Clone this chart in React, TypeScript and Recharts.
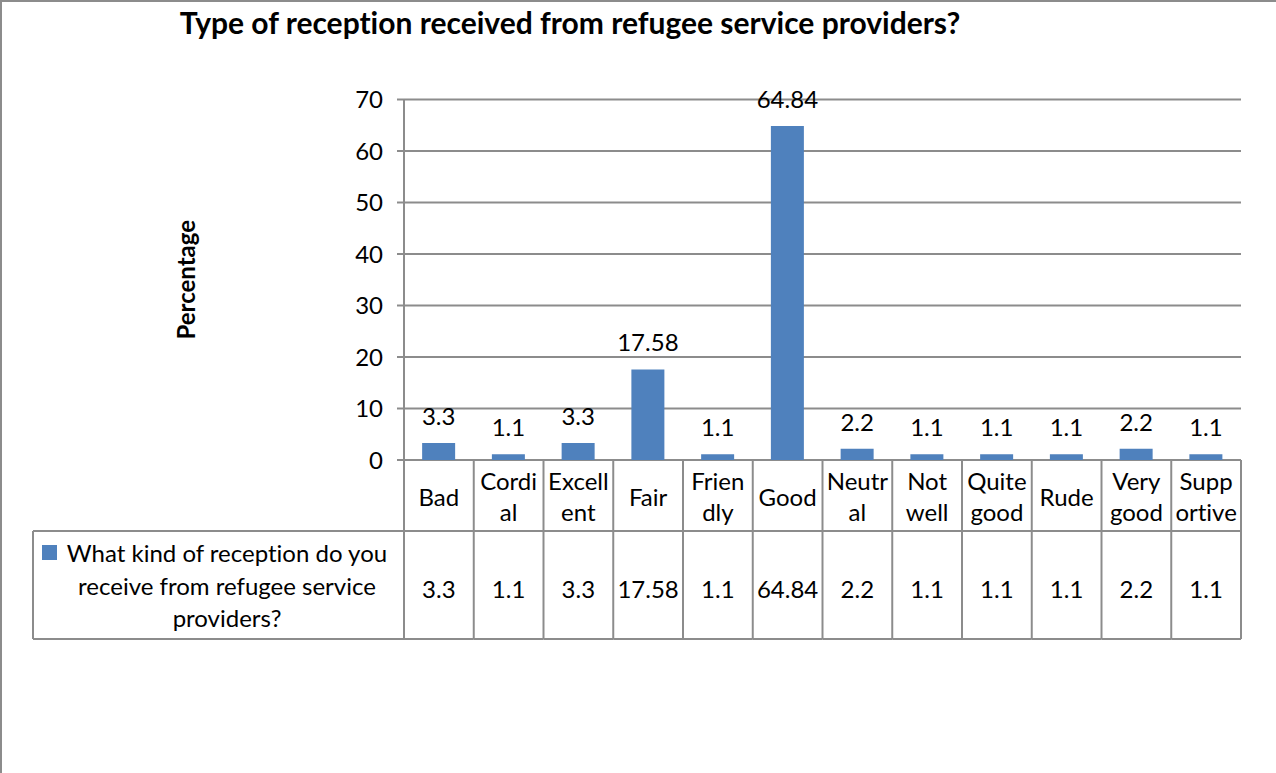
import React from 'react';
import { BarChart, Bar, XAxis, YAxis, CartesianGrid, LabelList } from 'recharts';

const categories = ['Bad', 'Cordial', 'Excellent', 'Fair', 'Friendly', 'Good', 'Neutral', 'Not well', 'Quite good', 'Rude', 'Very good', 'Supportive'];
const categoryLabelLines = [
  ['Bad'], ['Cordi', 'al'], ['Excell', 'ent'], ['Fair'], ['Frien', 'dly'], ['Good'],
  ['Neutr', 'al'], ['Not', 'well'], ['Quite', 'good'], ['Rude'], ['Very', 'good'], ['Supp', 'ortive'],
];
const percentages = [3.3, 1.1, 3.3, 17.58, 1.1, 64.84, 2.2, 1.1, 1.1, 1.1, 2.2, 1.1];
const yTicks = [0, 10, 20, 30, 40, 50, 60, 70];
const seriesNameLines = ['What kind of reception do you', 'receive from refugee service', 'providers?'];
const title = 'Type of reception received from refugee service providers?';
const yAxisTitle = 'Percentage';

const data = categories.map((c, i) => ({ name: c, value: percentages[i] }));

const W = 1276;
const H = 773;
const FONT = 'Lato, "Open Sans", sans-serif';
const FS = 24;
const GRID = '#8c8c8c';
const BAR = '#4F81BD';
const ROW1 = 71;
const ROW2 = 108;
const XAXIS_H = ROW1 + ROW2;
const MARGIN = { top: 99.5, right: 35, left: 344, bottom: 313 - XAXIS_H };
const YAXIS_W = 60;
const PLOT_W = W - MARGIN.left - YAXIS_W - MARGIN.right;
const TXT: React.CSSProperties = { fontVariantLigatures: 'none' };

function TableTick(props: any) {
  const { x, y, payload, index } = props;
  const bw = PLOT_W / categories.length;
  const lines = categoryLabelLines[index] || [String(payload.value)];
  const left = x - bw / 2;
  const right = x + bw / 2;
  const val = percentages[index];
  return (
    <g>
      <line x1={left} y1={y} x2={left} y2={y + ROW1 + ROW2} stroke={GRID} strokeWidth={2} />
      {index === categories.length - 1 && (
        <line x1={right} y1={y} x2={right} y2={y + ROW1 + ROW2} stroke={GRID} strokeWidth={2} />
      )}
      <line x1={left} y1={y + ROW1} x2={right} y2={y + ROW1} stroke={GRID} strokeWidth={2} />
      <line x1={left} y1={y + ROW1 + ROW2} x2={right} y2={y + ROW1 + ROW2} stroke={GRID} strokeWidth={2} />
      {lines.length === 1 ? (
        <text x={x} y={y + 46} textAnchor="middle" fontSize={FS} fontFamily={FONT} fill="#000" style={TXT}>{lines[0]}</text>
      ) : (
        lines.map((l: string, i: number) => (
          <text key={i} x={x} y={y + 30 + i * 31} textAnchor="middle" fontSize={FS} fontFamily={FONT} fill="#000" style={TXT}>{l}</text>
        ))
      )}
      <text x={x} y={y + 138} textAnchor="middle" fontSize={FS} fontFamily={FONT} fill="#000" style={TXT}>{String(val)}</text>
    </g>
  );
}

function YTitle(props: any) {
  const { viewBox } = props;
  const cx = viewBox.x - 159;
  const cy = viewBox.y + viewBox.height / 2;
  return (
    <text x={cx} y={cy} transform={`rotate(-90 ${cx} ${cy})`} textAnchor="middle" dominantBaseline="central"
      fontSize={FS} fontWeight="bold" fontFamily={FONT} fill="#000" style={TXT}>{yAxisTitle}</text>
  );
}

export default function App() {
  const plotLeft = MARGIN.left + YAXIS_W;
  const plotBottom = H - 313;
  const rowTop = plotBottom + ROW1;
  const rowBottom = rowTop + ROW2;
  return (
    <div style={{ position: 'absolute', left: 0, top: 0, width: W, height: H, background: '#fff' }}>
      <svg width={W} height={H} style={{ position: 'absolute', left: 0, top: 0 }}>
        <rect x={1} y={1} width={W + 20} height={H + 20} fill="#fff" stroke={GRID} strokeWidth={2} />
        <text x={570} y={34} textAnchor="middle" fontSize={30} fontWeight="bold" fontFamily={FONT} fill="#000" style={TXT}>{title}</text>
        <line x1={33} y1={rowTop} x2={plotLeft} y2={rowTop} stroke={GRID} strokeWidth={2} />
        <line x1={33} y1={rowBottom} x2={plotLeft} y2={rowBottom} stroke={GRID} strokeWidth={2} />
        <line x1={33} y1={rowTop} x2={33} y2={rowBottom} stroke={GRID} strokeWidth={2} />
        <rect x={42} y={545} width={15} height={15} fill={BAR} />
        {seriesNameLines.map((l, i) => (
          <text key={i} x={227} y={562 + i * 32.5} textAnchor="middle" fontSize={FS} fontFamily={FONT} fill="#000" style={TXT}>{l}</text>
        ))}
      </svg>
      <div style={{ position: 'absolute', left: 0, top: 0 }}>
        <BarChart width={W} height={H} data={data} margin={MARGIN} barCategoryGap="26%">
          <CartesianGrid vertical={false} stroke={GRID} strokeWidth={2} />
          <XAxis dataKey="name" height={XAXIS_H} axisLine={false} tickLine={false} tickSize={0} tickMargin={0}
            interval={0} tick={(p: any) => <TableTick {...p} />} />
          <YAxis width={YAXIS_W} domain={[0, 70]} ticks={yTicks} interval={0} tickSize={7} tickMargin={14}
            axisLine={{ stroke: GRID, strokeWidth: 2 }} tickLine={{ stroke: GRID, strokeWidth: 2 }}
            tick={{ fontSize: FS, fontFamily: FONT, fill: '#000' }} label={<YTitle />} />
          <Bar dataKey="value" fill={BAR} isAnimationActive={false}>
            <LabelList dataKey="value" position="top" offset={18} fontSize={FS} fontFamily={FONT} fill="#000" />
          </Bar>
        </BarChart>
      </div>
    </div>
  );
}
